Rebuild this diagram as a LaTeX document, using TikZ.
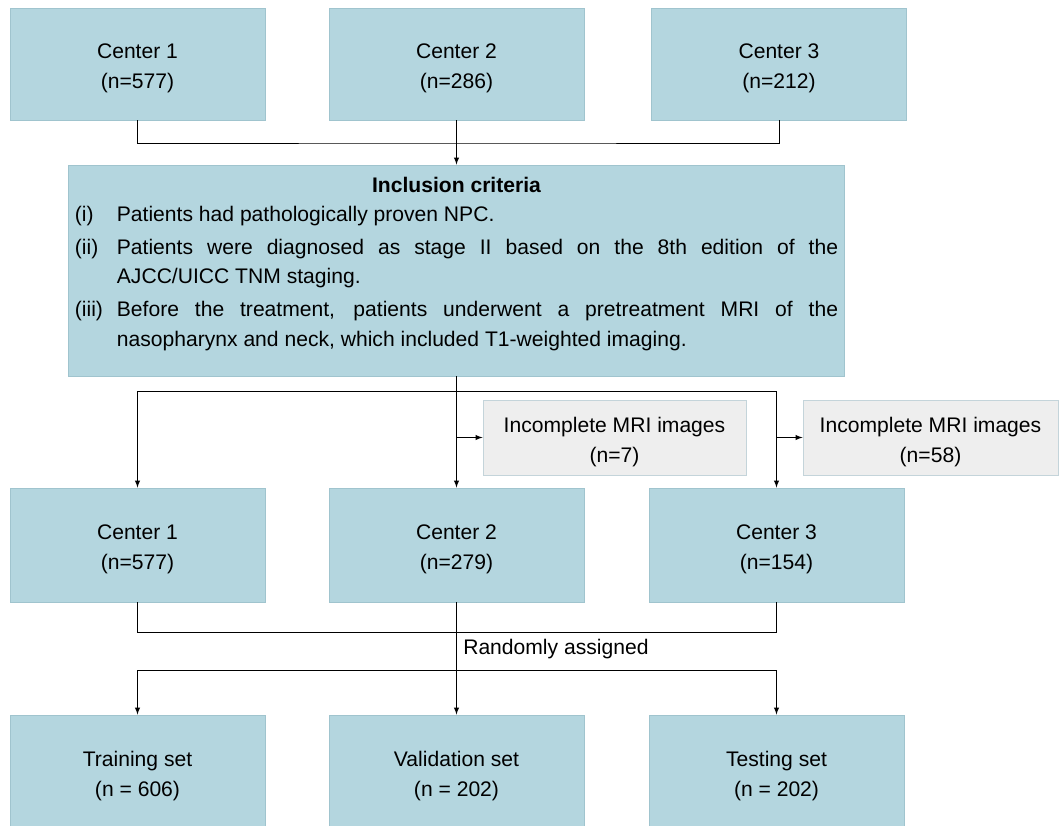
\documentclass[tikz,border=0pt]{standalone}
\usepackage{fontspec}
\setmainfont{Liberation Sans}
\usepackage{xcolor}
\tikzset{>=latex}
\definecolor{boxblue}{RGB}{180,214,223}
\definecolor{boxedge}{RGB}{160,196,206}
\definecolor{boxgray}{RGB}{238,238,238}
\definecolor{grayedge}{RGB}{196,212,218}
\newcommand{\critem}[2]{\par\hangindent=1.05cm\hangafter=1\noindent\makebox[1.05cm][l]{#1}#2}
\newcommand{\lowstrut}{\rule{0pt}{17pt}}

\begin{document}
\begin{tikzpicture}[>=latex, x=0.025cm, y=-0.025cm,
    every node/.style={font=\fontsize{15}{21.3}\selectfont},
    bluebox/.style={draw=boxedge, line width=0.6pt, fill=boxblue, minimum width=6.375cm, minimum height=2.8cm, align=center, inner sep=0pt},
    graybox/.style={bluebox, draw=grayedge, fill=boxgray, minimum height=1.875cm},
    link/.style={line width=0.7pt}]
        \useasboundingbox (0,0) rectangle (1061,825);
        % the three centers, before and after screening
        \foreach \i/\x/\n in {1/137.5/577, 2/456.5/286, 3/779/212} {
          \node[bluebox] (src\i) at (\x, 64) {\lowstrut Center \i\\(n=\n)};
        }
        \foreach \i/\x/\n in {1/137.5/577, 2/456.5/279, 3/776.5/154} {
          \node[bluebox, minimum height=2.85cm] (mid\i) at (\x, 545) {\lowstrut Center \i\\(n=\n)};
        }
        \foreach \i/\x/\s/\n in {1/137.5/Training/606, 2/456.5/Validation/202, 3/776.5/Testing/202} {
          \node[bluebox, minimum height=2.85cm] (set\i) at (\x, 772) {\lowstrut\s\ set\\(n = \n)};
        }
        \node[bluebox, minimum width=19.375cm, minimum height=5.275cm] (incl) at (456.5, 270.5) {};
        \node[anchor=north, text width=19.075cm, align=justify, inner sep=0pt] (crit) at ([yshift=-0.3cm]incl.north) {%
          \parskip=1.8pt\hyphenpenalty=10000
          \makebox[\linewidth]{\bfseries Inclusion criteria}\par\vspace{-2.2pt}
          \critem{(i)}{Patients had pathologically proven NPC.}
          \critem{(ii)}{Patients were diagnosed as stage II based on the 8th edition of the\linebreak AJCC/UICC TNM staging.}
          \critem{(iii)}{Before the treatment, patients underwent a pretreatment MRI of the\linebreak nasopharynx and neck, which included T1-weighted imaging.}\par};
        \node[graybox, minimum width=6.575cm] (miss1) at (614.5, 437.5) {\lowstrut Incomplete MRI images\\(n=7)};
        \node[graybox, minimum width=6.375cm] (miss2) at (930.5, 437.5) {\lowstrut Incomplete MRI images\\(n=58)};
        % connectors
        \coordinate (srcjoin) at (456.5, 143);
        \draw[link] (src1.south) |- (srcjoin) -| (src3.south);
        \draw[link, ->] (src2.south) -- (incl.north);
        \coordinate (split) at (456.5, 391);
        \draw[link, ->] (incl.south) -- (mid2.north);
        \draw[link, ->] (split) -| (mid1.north);
        \draw[link, ->] (split) -| (mid3.north);
        \draw[link, ->] (mid2.north |- miss1.west) -- (miss1.west);
        \draw[link, ->] (mid3.north |- miss2.west) -- (miss2.west);
        \coordinate (merge) at (456.5, 632);
        \draw[link] (mid1.south) |- (merge) -| (mid3.south);
        \draw[link, ->] (mid2.south) -- (set2.north);
        \coordinate (assign) at (456.5, 670);
        \draw[link, ->] (assign) -| (set1.north);
        \draw[link, ->] (assign) -| (set3.north);
        \node[anchor=west, inner sep=0pt] (rand) at (463, 649) {Randomly assigned};
      \end{tikzpicture}
\end{document}
